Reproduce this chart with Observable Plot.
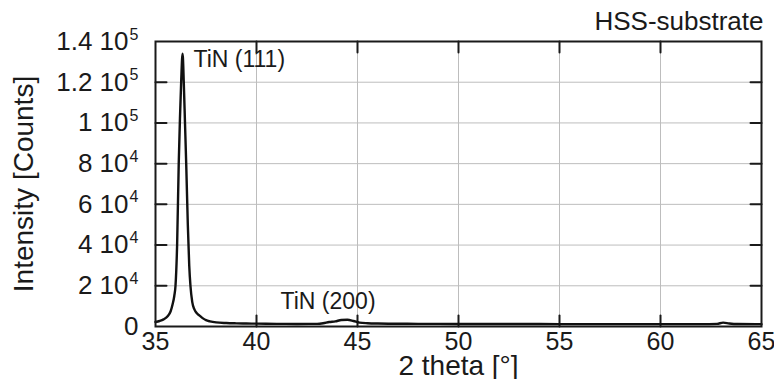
<!DOCTYPE html>
<html><head><meta charset="utf-8">
<script src="https://cdn.jsdelivr.net/npm/d3@7"></script>
<script src="https://cdn.jsdelivr.net/npm/@observablehq/plot@0.6"></script>
<style>
html,body{margin:0;padding:0;background:#fff;}
#chart svg{display:block;}
</style></head><body><div id="chart"></div>
<script>
// 2-theta positions (degrees) and intensities (counts)
const twoTheta = [
  35.0, 35.2, 35.4, 35.6, 35.75, 35.85, 35.93, 35.99, 36.07, 36.15,
  36.21, 36.27, 36.34, 36.40, 36.46, 36.52, 36.60, 36.67, 36.73, 36.82,
  36.92, 37.06, 37.2, 37.35, 37.5, 37.7, 38.0, 38.5, 39.0, 39.5,
  40.0, 41.0, 42.0, 43.0, 43.3, 43.6, 43.9, 44.2, 44.5, 44.8,
  45.1, 45.5, 46.0, 47.0, 48.0, 50.0, 52.0, 54.0, 56.0, 58.0,
  60.0, 62.0, 62.8, 63.1, 63.4, 63.8, 65.0
];
const intensity = [
  2200, 2700, 3500, 5000, 7500, 11000, 15000, 20000, 40000, 80000,
  102000, 120000, 134000, 120000, 100000, 80000, 50000, 30000, 20000, 12000,
  8500, 6400, 5200, 4000, 3100, 2500, 2000, 1700, 1550, 1450,
  1400, 1300, 1250, 1300, 1600, 2200, 2500, 3200, 3300, 2700,
  1900, 1600, 1450, 1350, 1300, 1250, 1200, 1200, 1150, 1150,
  1150, 1150, 1300, 1900, 1500, 1200, 1150
];
const xTicks = [35, 40, 45, 50, 55, 60, 65];
const yTicks = [0, 20000, 40000, 60000, 80000, 100000, 120000, 140000];
const yTickMantissa = ["0", "2 10", "4 10", "6 10", "8 10", "1 10", "1.2 10", "1.4 10"];
const yTickExponent = ["", "4", "4", "4", "4", "5", "5", "5"];
const peakLabels = ["TiN (111)", "TiN (200)"];
const peakLabelX = [36.88, 41.19];
const peakLabelY = [127700, 8800];
const cornerLabel = "HSS-substrate";
const xLabel = "2 theta [°]";
const yLabel = "Intensity [Counts]";

const data = twoTheta.map((x, i) => ({x, y: intensity[i]}));
const annotations = peakLabels.map((text, i) => ({text, x: peakLabelX[i], y: peakLabelY[i]}));
const yLabels = yTicks.map((v, i) => ({v, m: yTickMantissa[i], e: yTickExponent[i]}));
const zeroLabel = yLabels.filter(d => !d.e);
const powLabels = yLabels.filter(d => d.e);
const innerX = xTicks.slice(1, -1);
const innerY = yTicks.slice(1, -1);
const tickShape = {draw(ctx, l) { ctx.moveTo(0, 0); ctx.lineTo(0, -l); }};
const ink = "#1a1a1a";
const gridColor = "#bdbdbd";

const chart = Plot.plot({
  width: 774,
  height: 379,
  marginLeft: 155,
  marginRight: 13,
  marginTop: 41,
  marginBottom: 53,
  style: {fontFamily: "'Liberation Sans', Arial, sans-serif", color: ink, background: "#fff"},
  x: {domain: [35, 65]},
  y: {domain: [0, 140000], axis: null},
  marks: [
    Plot.gridX(innerX, {stroke: gridColor, strokeOpacity: 1, strokeWidth: 1}),
    Plot.gridY(innerY, {stroke: gridColor, strokeOpacity: 1, strokeWidth: 1}),
    Plot.vector(innerX, {x: d => d, frameAnchor: "bottom", length: 11, rotate: 0, anchor: "start", shape: tickShape, stroke: ink, strokeWidth: 2}),
    Plot.vector(innerX, {x: d => d, frameAnchor: "top", length: 11, rotate: 180, anchor: "start", shape: tickShape, stroke: ink, strokeWidth: 2}),
    Plot.vector(innerY, {y: d => d, frameAnchor: "left", length: 11, rotate: 90, anchor: "start", shape: tickShape, stroke: ink, strokeWidth: 2}),
    Plot.vector(innerY, {y: d => d, frameAnchor: "right", length: 11, rotate: -90, anchor: "start", shape: tickShape, stroke: ink, strokeWidth: 2}),
    Plot.line(data, {x: "x", y: "y", stroke: "#111", strokeWidth: 2.4, curve: "monotone-x"}),
    Plot.frame({stroke: ink, strokeWidth: 2}),
    Plot.axisX(xTicks, {tickSize: 0, tickPadding: 6, fontSize: 25, label: null, fill: ink}),
    Plot.text(zeroLabel, {y: "v", text: "m", frameAnchor: "left", textAnchor: "end", dx: -17, fontSize: 26, fill: ink}),
    Plot.text(powLabels, {y: "v", text: "m", frameAnchor: "left", textAnchor: "end", dx: -27, fontSize: 26, fill: ink}),
    Plot.text(powLabels, {y: "v", text: "e", frameAnchor: "left", textAnchor: "start", dx: -26, dy: -7, fontSize: 16, fill: ink}),
    Plot.text([xLabel], {frameAnchor: "bottom", dy: 48, lineAnchor: "bottom", fontSize: 28, fill: ink}),
    Plot.text([yLabel], {frameAnchor: "left", textAnchor: "middle", dx: -142, rotate: -90, lineAnchor: "top", fontSize: 28, fill: ink}),
    Plot.text([cornerLabel], {frameAnchor: "top-right", textAnchor: "end", lineAnchor: "bottom", dx: 2, dy: -12, fontSize: 26, fill: ink}),
    Plot.text(annotations, {x: "x", y: "y", text: "text", textAnchor: "start", lineAnchor: "bottom", fontSize: 23, fill: ink})
  ]
});
document.getElementById("chart").appendChild(chart);
</script>
</body></html>
